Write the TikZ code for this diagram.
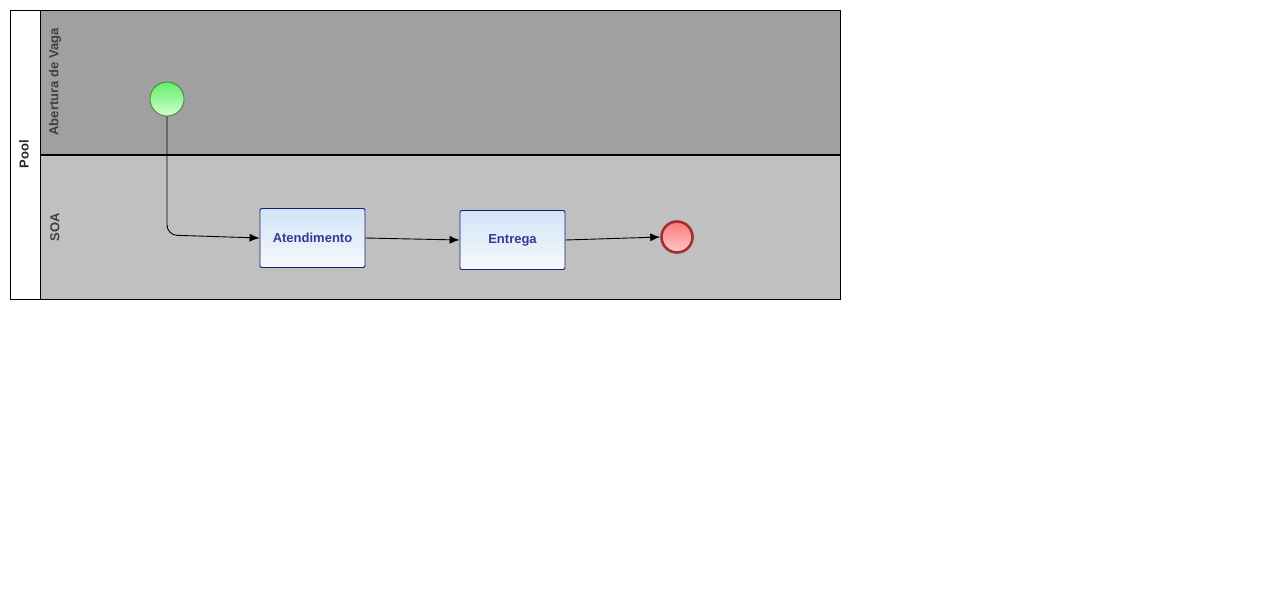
\documentclass[tikz,border=0pt]{standalone}
\usepackage{fontspec}
\setmainfont{Liberation Sans}
\usetikzlibrary{arrows.meta}
\definecolor{laneA}{HTML}{A0A0A0}
\definecolor{laneB}{HTML}{C0C0C0}
\definecolor{lanetext}{HTML}{404040}
\definecolor{taskline}{HTML}{1C1C7A}
\definecolor{tasktext}{HTML}{3A3598}
\definecolor{tasktop}{HTML}{D2E4F7}
\definecolor{taskbot}{HTML}{F6F9FD}
\definecolor{startline}{HTML}{3C7C3C}
\definecolor{starttop}{HTML}{66EE66}
\definecolor{startbot}{HTML}{D0FFD0}
\definecolor{endline}{HTML}{A03030}
\definecolor{endtop}{HTML}{FF7878}
\definecolor{endbot}{HTML}{FFCACA}
\tikzset{
  lanelabel/.style={rotate=90, font=\fontsize{13}{15}\selectfont\bfseries, text=lanetext, inner sep=0pt},
  taskbox/.style={draw=taskline, line width=0.9pt, rounded corners=2pt, top color=tasktop, bottom color=taskbot,
    minimum width=105pt, minimum height=59pt, inner sep=0pt, font=\fontsize{13}{15}\selectfont\bfseries, text=tasktext},
  startev/.style={circle, draw=startline, line width=0.8pt, top color=starttop, bottom color=startbot, minimum size=34pt, inner sep=0pt},
  endev/.style={circle, draw=endline, line width=2.6pt, top color=endtop, bottom color=endbot, minimum size=31pt, inner sep=0pt},
  flow/.style={draw=black, line width=0.9pt, -{Latex[length=10pt,width=8pt]}}
}
\begin{document}
\begin{tikzpicture}[x=1pt,y=-1pt]
\useasboundingbox[fill=white] (0,0) rectangle (1276,600);
% lanes
\fill[laneA] (40,10) rectangle (840,155);
\fill[laneB] (40,155) rectangle (840,299);
\fill[white] (10,10) rectangle (40,299);
\draw[line width=0.8pt] (10,10) rectangle (840,299);
\draw[line width=0.8pt] (40,10) -- (40,299);
\draw[line width=1.8pt] (40,155) -- (840,155);
% labels
\node[lanelabel, text=black!85] (poollbl) at (24,154) {Pool};
\node[lanelabel] (lane1lbl) at (55,82) {Abertura de Vaga};
\node[lanelabel] (lane2lbl) at (55,227) {SOA};
% flow elements
\node[startev] (start) at (167,99) {};
\node[taskbox] (aten) at (312.5,238) {Atendimento};
\node[taskbox] (entr) at (512.5,240) {Entrega};
\node[endev] (fim) at (677,237) {};
\coordinate (bend) at (167,235);
% connectors
\draw[flow, rounded corners=10pt] (start.south) -- (bend) -- (aten.west);
\draw[flow] (aten.east) -- (entr.west);
\draw[flow] (entr.east) -- (fim.west);
\end{tikzpicture}
\end{document}
